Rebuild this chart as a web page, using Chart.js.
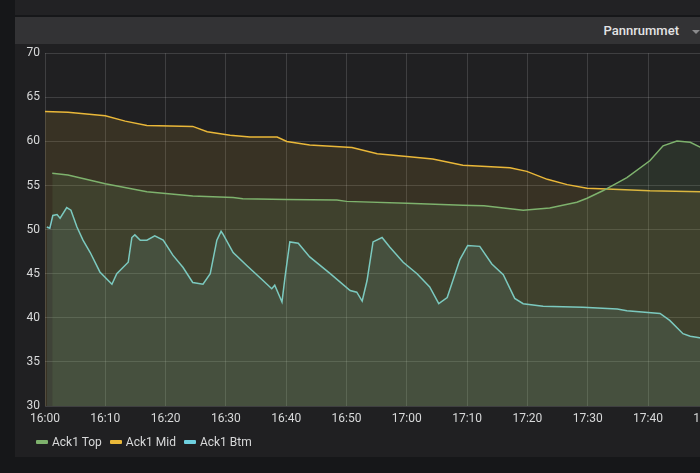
<!DOCTYPE html>
<html>
<head>
<meta charset="utf-8">
<script src="https://cdn.jsdelivr.net/npm/chart.js@4.4.1/dist/chart.umd.min.js"></script>
<style>
  html, body { margin:0; padding:0; width:700px; height:473px; overflow:hidden; background:#161719; font-family: Roboto, "Liberation Sans", sans-serif; }
  .prev { position:absolute; left:15px; top:0; width:700px; height:15px; background:#222224; }
  .panel { position:absolute; left:15px; top:17px; width:760px; height:440px; background:#202022; overflow:hidden; }
  .head { position:absolute; left:0; top:0; width:100%; height:27px; background:#333335; }
  .title { position:absolute; right:96px; top:6px; font-size:13px; font-weight:500; color:#e3e3e4; line-height:16px; white-space:nowrap; }
  .caret { position:absolute; left:677px; top:13px; width:0; height:0; border-left:4px solid transparent; border-right:4px solid transparent; border-top:4px solid #8a8a8c; }
  canvas { position:absolute; left:0; top:24px; }
  .legend { position:absolute; left:21px; top:417px; font-size:12px; color:#d8d9da; white-space:nowrap; line-height:16px; }
  .legend span { display:inline-block; margin-right:8px; }
  .legend i { display:inline-block; width:12px; height:4px; border-radius:1px; vertical-align:middle; margin-right:4px; position:relative; top:-1px; }
</style>
</head>
<body>
<div class="prev"></div>
<div class="panel">
  <div class="head"><div class="title">Pannrummet</div><div class="caret"></div></div>
  <canvas id="chart" width="745" height="416"></canvas>
  <div class="legend" id="legend"></div>
</div>
<script>
document.addEventListener('DOMContentLoaded', () => {
  // ===== Data (minutes after 16:00) =====
  const tickLabels = ['16:00','16:10','16:20','16:30','16:40','16:50','17:00','17:10','17:20','17:30','17:40','17:50'];

  const topMin = [1.2, 3.8, 10, 16.9, 24.5, 31.2, 32.8, 40.1, 48.4, 50, 60, 69.3, 72.8, 79.3, 83.7, 88.2, 89.9, 92.5, 96.5, 100.3, 102.5, 104.8, 107, 108.8];
  const topVal = [56.4, 56.2, 55.2, 54.3, 53.8, 53.65, 53.5, 53.4, 53.35, 53.2, 53.0, 52.75, 52.7, 52.2, 52.45, 53.1, 53.55, 54.4, 55.9, 57.8, 59.5, 60.05, 59.9, 59.3];

  const midMin = [0, 3.8, 10, 13.3, 16.9, 24.5, 26.9, 30.7, 34, 38.5, 40.1, 43.9, 50.9, 55.1, 60, 64.3, 69.3, 77.1, 79.9, 83.3, 86.6, 89.9, 93.2, 100.3, 108.8];
  const midVal = [63.4, 63.3, 62.9, 62.3, 61.8, 61.7, 61.1, 60.7, 60.5, 60.5, 60.0, 59.6, 59.3, 58.6, 58.3, 58.0, 57.3, 57.0, 56.6, 55.7, 55.1, 54.7, 54.6, 54.4, 54.3];

  const btmMin = [0.3, 0.8, 1.3, 2.0, 2.5, 3.6, 4.3, 5.3, 6.3, 7.5, 9.1, 11.1, 11.9, 13.8, 14.4, 14.9, 15.8, 16.9, 18.2, 19.6, 21.2, 22.9, 24.5, 26.2, 27.4, 28.5, 29.2, 29.5, 31.2, 33.5, 36.2, 37.6, 38.1, 39.3, 39.8, 40.6, 42.0, 43.9, 47.3, 50.6, 51.7, 52.6, 53.4, 54.4, 55.9, 57.2, 59.4, 61.7, 63.8, 65.3, 66.7, 68.8, 70.1, 72.1, 74.1, 76.0, 77.9, 79.3, 82.6, 89.2, 94.9, 96.5, 102, 103.6, 105.8, 107, 108.8];
  const btmVal = [50.3, 50.15, 51.6, 51.7, 51.3, 52.5, 52.2, 50.3, 48.8, 47.4, 45.2, 43.8, 45.0, 46.3, 49.1, 49.4, 48.8, 48.8, 49.3, 48.8, 47.1, 45.7, 44.0, 43.8, 45.0, 48.8, 49.8, 49.5, 47.4, 45.9, 44.2, 43.3, 43.7, 41.8, 44.6, 48.6, 48.45, 46.9, 45.0, 43.1, 42.9, 41.9, 44.2, 48.6, 49.1, 48.0, 46.3, 45.0, 43.5, 41.6, 42.3, 46.6, 48.2, 48.1, 46.1, 44.9, 42.2, 41.6, 41.3, 41.2, 41.0, 40.8, 40.5, 39.7, 38.2, 37.9, 37.7];

  // ===== Style =====
  const GRID = 'rgba(255,255,255,0.14)';
  const TXT = '#d8d9da';
  const FONT = 'Roboto, "Liberation Sans", sans-serif';
  const X_MAX = 715 / 6.03; // px per minute

  const series = [
    { label:'Ack1 Top', mins:topMin, vals:topVal, color:'#7eb26d', rgb:'126,178,109' },
    { label:'Ack1 Mid', mins:midMin, vals:midVal, color:'#eab839', rgb:'234,184,57' },
    { label:'Ack1 Btm', mins:btmMin, vals:btmVal, color:'#6ed0e0', rgb:'110,208,224' }
  ];

  const datasets = series.map(s => ({
    label: s.label,
    data: s.mins.map((m, i) => ({ x:m, y:s.vals[i] })),
    borderColor: s.color,
    backgroundColor: `rgba(${s.rgb},0.12)`,
    borderWidth: 1.5,
    fill: 'start',
    tension: 0,
    pointRadius: 0
  }));

  new Chart(document.getElementById('chart').getContext('2d'), {
    type: 'line',
    data: { datasets },
    options: {
      responsive:false, animation:false,
      layout:{ padding:{ top:5, left:0, right:0, bottom:0 } },
      plugins:{ legend:{ display:false }, tooltip:{ enabled:false } },
      scales:{
        x:{
          type:'linear', min:0, max:X_MAX,
          border:{ display:false },
          grid:{ color:GRID, drawTicks:false },
          ticks:{ stepSize:10, includeBounds:false, autoSkip:false, maxRotation:0, padding:6, color:TXT, font:{ size:12, family:FONT },
                  callback: v => tickLabels[Math.round(v/10)] ?? '' },
          afterFit: s => { s.height = 51; }
        },
        y:{
          min:30, max:70,
          border:{ display:false },
          grid:{ color:GRID, drawTicks:false },
          ticks:{ stepSize:5, padding:5, color:TXT, font:{ size:12, family:FONT } },
          afterFit: s => { s.width = 30; }
        }
      }
    }
  });

  // ===== HTML legend =====
  document.getElementById('legend').innerHTML = series
    .map(s => `<span><i style="background:${s.color}"></i>${s.label}</span>`).join('');
});
</script>
</body>
</html>
